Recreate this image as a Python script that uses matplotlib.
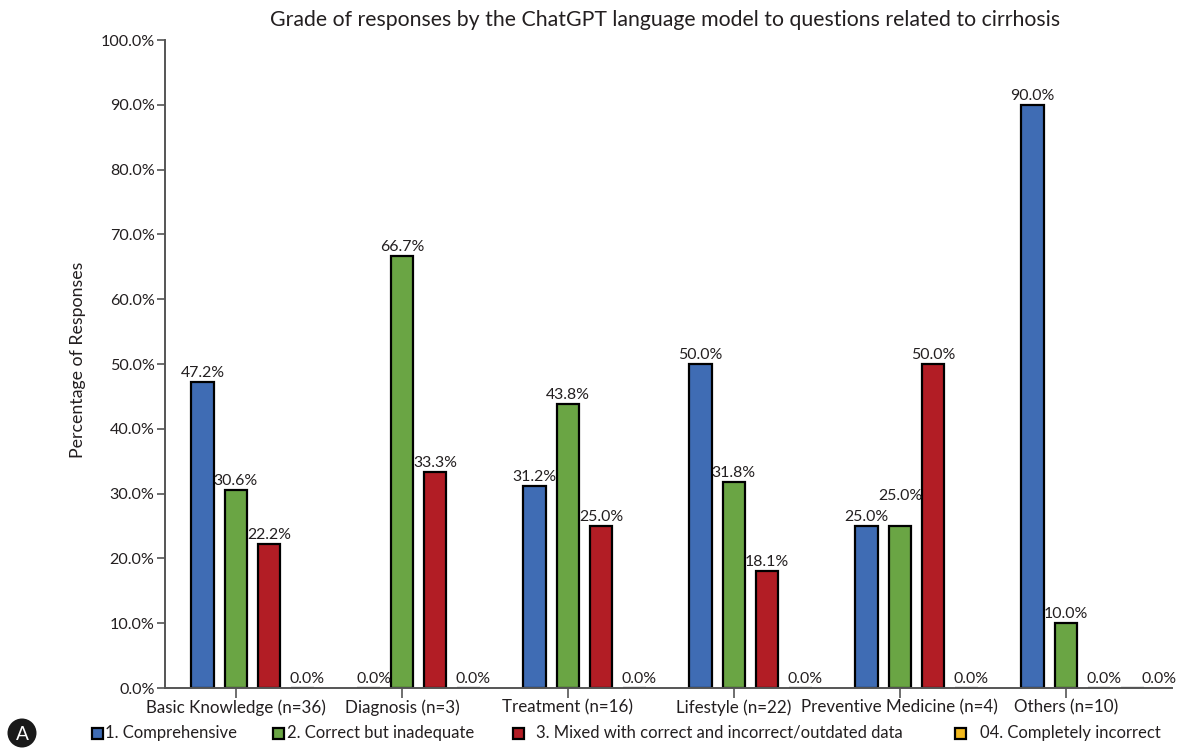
import matplotlib
matplotlib.use("Agg")
import matplotlib.pyplot as plt
import numpy as np
from matplotlib.patches import Rectangle, Ellipse

categories = ["Basic Knowledge (n=36)", "Diagnosis (n=3)", "Treatment (n=16)",
              "Lifestyle (n=22)", "Preventive Medicine (n=4)", "Others (n=10)"]
series_names = ["1. Comprehensive", "2. Correct but inadequate",
                "3. Mixed with correct and incorrect/outdated data",
                "04. Completely incorrect"]
comprehensive = [47.2, 0.0, 31.2, 50.0, 25.0, 90.0]
correct_inadequate = [30.6, 66.7, 43.8, 31.8, 25.0, 10.0]
mixed = [22.2, 33.3, 25.0, 18.1, 50.0, 0.0]
incorrect = [0.0, 0.0, 0.0, 0.0, 0.0, 0.0]
yticks = [0, 10, 20, 30, 40, 50, 60, 70, 80, 90, 100]
title = "Grade of responses by the ChatGPT language model to questions related to cirrhosis"

colors = ["#3F6CB4", "#6AA544", "#B21D25", "#F2B91E"]
series = [comprehensive, correct_inadequate, mixed, incorrect]
TXT = "#231f20"

plt.rcParams['font.family'] = ['Lato', 'DejaVu Sans']

W, H = 1179, 749
fig = plt.figure(figsize=(W / 100, H / 100), dpi=100)
renderer = fig.canvas.get_renderer()


def size_for(s, target_px, base=12.0):
    t = fig.text(0, 0, s, fontsize=base)
    w = t.get_window_extent(renderer).width
    t.remove()
    return base * target_px / w


ax = fig.add_axes([165 / W, 1 - 688 / H, (1172 - 165) / W, (688 - 40) / H])

fs_val = size_for("47.2%", 44)
fs_ytick = size_for("100.0%", 54)
fs_xtick = size_for("Diagnosis (n=3)", 114)
fs_title = size_for(title, 785)
fs_leg = size_for("04. Completely incorrect", 180)
fs_ylab = size_for("Percentage of Responses", 196)

x = np.arange(len(categories))
step = 0.2
width = 0.137
offsets = [-1.5, -0.5, 0.5, 1.5]
prev_val = [None] * len(categories)
for vals, col, off in zip(series, colors, offsets):
    pos = x + off * step
    ax.bar(pos, vals, width=width, color=col, edgecolor="black", linewidth=1.6, zorder=2)
    for i, (px, v) in enumerate(zip(pos, vals)):
        dx, dy = 0.0, 0.0
        pv = prev_val[i]
        if v == 0:
            dx = 0.03
            if pv == 0 and i == len(categories) - 1:
                dx = 0.16
            elif pv == 0:
                dx = 0.04
        elif pv is not None and pv > 0 and abs(v - pv) < 2:
            dy = 3.2
        ax.annotate(f"{v:.1f}%", (px + dx, v + dy), xytext=(0, 1.5), textcoords="offset points",
                    ha="center", va="bottom", fontsize=fs_val, color=TXT)
        prev_val[i] = v

ax.set_xlim(-0.527, 5.539)
ax.set_ylim(0, 100)
ax.set_yticks(yticks)
ax.set_yticklabels([f"{t:.1f}%" for t in yticks], fontsize=fs_ytick, color=TXT)
ax.set_xticks(x - 0.5 * step)
ax.set_xticklabels(categories, fontsize=fs_xtick, color=TXT)
ax.tick_params(axis="y", length=6, width=1.2, color="#555555", pad=1.5)
ax.tick_params(axis="x", length=7, width=1.2, color="#555555", pad=1.5)
for s in ["top", "right"]:
    ax.spines[s].set_visible(False)
for s in ["left", "bottom"]:
    ax.spines[s].set_color("#555555")
    ax.spines[s].set_linewidth(1.4)

fig.text(78 / W, 1 - 360 / H, "Percentage of Responses", rotation=90, ha="center", va="center",
         fontsize=fs_ylab, color=TXT)
fig.text(665 / W, 1 - 20 / H, title, ha="center", va="center", fontsize=fs_title, color=TXT)

# legend
leg_y = 1 - 733 / H
sq = 11
sq_x = [92, 273, 513, 955]
txt_x = [105, 287, 536, 980]
for sx, tx, col, name in zip(sq_x, txt_x, colors, series_names):
    fig.patches.append(Rectangle((sx / W, leg_y - sq / 2 / H), sq / W, sq / H, transform=fig.transFigure,
                                 facecolor=col, edgecolor="black", linewidth=1.6))
    fig.text(tx / W, leg_y, name, ha="left", va="center", fontsize=fs_leg, color=TXT)

# circled A
fig.patches.append(Ellipse((22 / W, leg_y), 29 / W, 29 / H, transform=fig.transFigure,
                           facecolor="#1a1a1a", edgecolor="none"))
fig.text(22 / W, leg_y - 1 / H, "A", ha="center", va="center", fontsize=fs_leg * 1.15, color="white")

fig.savefig("out.png", dpi=100)
